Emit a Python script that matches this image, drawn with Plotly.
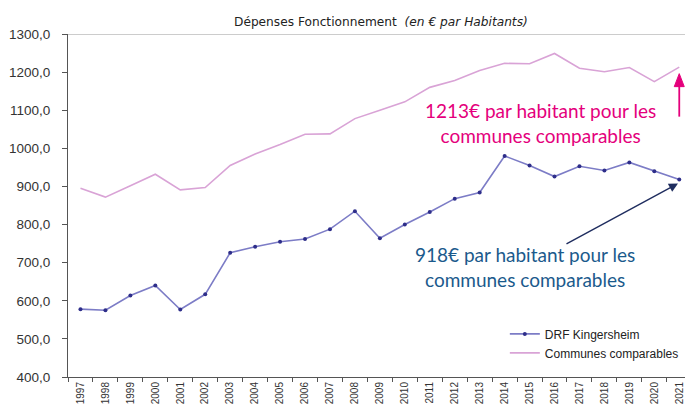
import plotly.graph_objects as go

years = [str(y) for y in range(1997, 2022)]
drf_kingersheim = [578, 575, 614, 640, 577, 617, 726, 742, 755, 762, 788, 835, 764,
                   800, 833, 868, 884, 980, 955, 926, 953, 942, 963, 940, 918]
communes_comparables = [895, 872, 902, 932, 891, 897, 955, 985, 1010, 1037, 1038, 1078,
                        1100, 1122, 1160, 1178, 1204, 1223, 1222, 1249, 1210, 1201,
                        1212, 1175, 1213]
y_ticks = [400, 500, 600, 700, 800, 900, 1000, 1100, 1200, 1300]
y_tick_text = ["400,0", "500,0", "600,0", "700,0", "800,0", "900,0", "1000,0",
               "1100,0", "1200,0", "1300,0"]

chart_font = "Arial, Liberation Sans, sans-serif"
title_font = "DejaVu Sans, Arial, sans-serif"
note_font = "Lato, Open Sans, sans-serif"
pink = "#E4007C"

fig = go.Figure()
fig.add_trace(go.Scatter(
    x=years, y=drf_kingersheim, name="DRF Kingersheim", mode="lines+markers",
    line=dict(color="#7C7CC6", width=1.6),
    marker=dict(color="#2E2E8A", size=4),
))
fig.add_trace(go.Scatter(
    x=years, y=communes_comparables, name="Communes comparables", mode="lines",
    line=dict(color="#D9A3D6", width=1.6),
))

# pink arrow pointing at the last "communes comparables" value (pixel-sized shapes anchored there)
arrow_x = len(years) - 1
arrow_y = 1196
pink_arrow = [
    dict(type="line", xref="x", yref="y", xsizemode="pixel", ysizemode="pixel",
         xanchor=arrow_x, yanchor=arrow_y, x0=0, x1=0, y0=-43, y1=-8,
         line=dict(color=pink, width=1.8)),
    dict(type="path", xref="x", yref="y", xsizemode="pixel", ysizemode="pixel",
         xanchor=arrow_x, yanchor=arrow_y, path="M -5,-13 L 5,-13 L 0,0 Z",
         fillcolor=pink, line=dict(color=pink, width=1)),
]

fig.update_layout(
    width=685, height=410,
    margin=dict(l=68, r=0, t=34, b=33, autoexpand=False),
    paper_bgcolor="white", plot_bgcolor="white",
    font=dict(family=chart_font, color="#333333"),
    showlegend=True,
    legend=dict(x=0.708, y=0.168, xanchor="left", yanchor="top",
                font=dict(size=12, color="#222222"), bgcolor="rgba(0,0,0,0)",
                tracegroupgap=0),
    xaxis=dict(type="category", range=[-0.5, 24.23], tickson="boundaries",
               ticks="outside", ticklen=4, tickcolor="#555555",
               showline=True, linecolor="#555555", linewidth=1,
               showgrid=False, tickangle=-90, automargin=False,
               tickfont=dict(size=10, color="#333333")),
    yaxis=dict(range=[400, 1300], tickvals=y_ticks, ticktext=y_tick_text,
               ticks="outside", ticklen=5, tickcolor="#555555",
               showline=True, linecolor="#555555", linewidth=1.2,
               showgrid=False, zeroline=False, automargin=False,
               ticklabelstandoff=9,
               tickfont=dict(size=13.5, color="#333333")),
    shapes=[dict(type="line", xref="paper", yref="y", x0=0, x1=1, y0=1300, y1=1300,
                 line=dict(color="#999999", width=1))] + pink_arrow,
)

fig.add_annotation(
    text="Dépenses Fonctionnement  <i>(en € par Habitants)</i>",
    xref="paper", yref="paper", x=(381 - 68) / 617, y=1.0, yanchor="bottom",
    xanchor="center", showarrow=False, yshift=3,
    font=dict(family=title_font, size=12.2, color="#222222"),
)

fig.add_annotation(
    text="1213€ par habitant pour les<br>communes comparables",
    x=18.45, y=1066, xref="x", yref="y", showarrow=False,
    font=dict(family=note_font, size=19, color=pink),
    align="center",
)

fig.add_annotation(
    text="918€ par habitant pour les<br>communes comparables",
    x=17.82, y=689, xref="x", yref="y", showarrow=False,
    font=dict(family=note_font, size=19, color="#1B5A8C"),
    align="center",
)
fig.add_annotation(
    x=23.95, y=908, ax=19.42, ay=747, xref="x", yref="y", axref="x", ayref="y",
    text="", showarrow=True, arrowhead=2, arrowsize=1.3, arrowwidth=1.4,
    arrowcolor="#1F2D5F",
)

fig.write_html(
    "out.html",
    config={"displayModeBar": False},
    post_script="document.body.style.margin='0';document.body.style.overflow='hidden';",
)
